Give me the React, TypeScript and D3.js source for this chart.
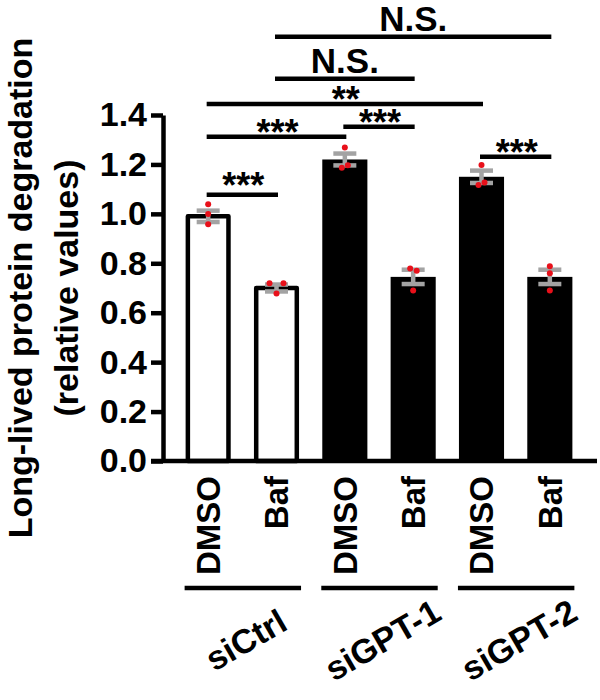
import React, { useEffect, useRef } from "react";
import * as d3 from "d3";

// data
const groups = ["siCtrl", "siGPT-1", "siGPT-2"];
const treatments = ["DMSO", "Baf"];
const means = [0.99, 0.70, 1.22, 0.745, 1.15, 0.745];
const sems = [0.023, 0.014, 0.024, 0.029, 0.025, 0.029];
const replicates = [
  [1.039, 0.999, 0.958],
  [0.719, 0.719, 0.678],
  [1.268, 1.197, 1.187],
  [0.779, 0.770, 0.690],
  [1.198, 1.127, 1.117],
  [0.788, 0.760, 0.690],
];
const yTicks = [0, 0.2, 0.4, 0.6, 0.8, 1.0, 1.2, 1.4];
// significance comparisons: bar index a vs b, drawn at value "level"
const comparisons = [
  { a: 0, b: 1, label: "***", level: 1.077 },
  { a: 0, b: 2, label: "***", level: 1.312 },
  { a: 2, b: 3, label: "***", level: 1.352 },
  { a: 4, b: 5, label: "***", level: 1.231 },
  { a: 0, b: 4, label: "**", level: 1.445 },
  { a: 1, b: 3, label: "N.S.", level: 1.547 },
  { a: 1, b: 5, label: "N.S.", level: 1.717 },
];
// horizontal offsets (px) of the replicate dots
const dotJitter = [
  [0, 0, 0],
  [-7, 7, 0],
  [0, 3, -3],
  [-3, 3.5, 0],
  [0, 3, -3],
  [0, 0, 0],
];

const FONT = "'Liberation Sans', Arial, Helvetica, sans-serif";

const App: React.FC = (): JSX.Element => {
  const ref = useRef<SVGSVGElement>(null);

  useEffect(() => {
    const svg = d3.select(ref.current);
    svg.selectAll("*").remove();

    const bars = groups.flatMap((g, gi) =>
      treatments.map((t, ti) => ({ key: `${g}-${t}`, group: gi, treatment: t, i: gi * 2 + ti }))
    );

    const axisX = 163;
    const x = d3.scaleBand<string>()
      .domain(bars.map(d => d.key))
      .range([174, 584])
      .paddingInner(0.34)
      .paddingOuter(0.17);
    const y = d3.scaleLinear().domain([0, 1.4]).range([461, 115]);
    const bw = x.bandwidth();
    const cx = (i: number) => (x(bars[i].key) || 0) + bw / 2;

    // y axis
    const yAxis = svg.append("g")
      .attr("transform", `translate(${axisX},0)`)
      .call(d3.axisLeft(y).tickValues(yTicks).tickSize(12).tickSizeOuter(0).tickPadding(4)
        .tickFormat(d3.format(".1f")));
    yAxis.select(".domain").attr("stroke", "#000").attr("stroke-width", 4.5);
    yAxis.selectAll(".tick line").attr("stroke", "#000").attr("stroke-width", 4.5);
    yAxis.selectAll(".tick text")
      .attr("fill", "#000")
      .style("font-family", FONT)
      .style("font-weight", "bold")
      .style("font-size", "34px");

    // y axis title
    const titleY = (y(0) + y(1.4)) / 2;
    [["Long-lived protein degradation", 32], ["(relative values)", 78]].forEach(([t, bx]) => {
      svg.append("text")
        .attr("transform", `translate(${bx},${titleY}) rotate(-90)`)
        .attr("text-anchor", "middle")
        .style("font-family", FONT)
        .style("font-weight", "bold")
        .style("font-size", "34px")
        .text(t as string);
    });

    // bars
    svg.append("g").selectAll("rect")
      .data(bars)
      .enter().append("rect")
      .attr("x", d => (x(d.key) || 0) + (d.group === 0 ? 2.25 : 0))
      .attr("width", d => bw - (d.group === 0 ? 4.5 : 0))
      .attr("y", d => y(means[d.i]))
      .attr("height", d => y(0) - y(means[d.i]))
      .attr("fill", d => d.group === 0 ? "#fff" : "#000")
      .attr("stroke", "#000")
      .attr("stroke-width", d => d.group === 0 ? 4.5 : 0)
      .attr("stroke-linejoin", "round");

    // x axis line
    svg.append("line")
      .attr("x1", axisX - 12).attr("x2", 597)
      .attr("y1", y(0)).attr("y2", y(0))
      .attr("stroke", "#000").attr("stroke-width", 4.5);

    // error bars
    const eb = svg.append("g").attr("stroke", "#a3a3a3").attr("stroke-width", 4.5);
    bars.forEach(d => {
      const c = cx(d.i);
      const hi = y(means[d.i] + sems[d.i]);
      const lo = y(means[d.i] - sems[d.i]);
      eb.append("line").attr("x1", c).attr("x2", c).attr("y1", hi).attr("y2", lo);
      eb.append("line").attr("x1", c - 11.5).attr("x2", c + 11.5).attr("y1", hi).attr("y2", hi);
      eb.append("line").attr("x1", c - 11.5).attr("x2", c + 11.5).attr("y1", lo).attr("y2", lo);
    });

    // replicate dots
    const dots = bars.flatMap(d => replicates[d.i].map((v, k) => ({ c: cx(d.i) + dotJitter[d.i][k], v })));
    svg.append("g").selectAll("circle")
      .data(dots)
      .enter().append("circle")
      .attr("cx", d => d.c)
      .attr("cy", d => y(d.v))
      .attr("r", 3)
      .attr("fill", "#e8101a");

    // treatment labels
    svg.append("g").selectAll("text")
      .data(bars)
      .enter().append("text")
      .attr("transform", d => `translate(${cx(d.i)},476) rotate(-90)`)
      .attr("text-anchor", "end")
      .attr("dy", "0.36em")
      .style("font-family", FONT)
      .style("font-weight", "bold")
      .style("font-size", "33px")
      .text(d => d.treatment);

    // group underline + labels
    groups.forEach((g, gi) => {
      const left = (x(bars[gi * 2].key) || 0) - 1;
      const right = (x(bars[gi * 2 + 1].key) || 0) + bw + 2;
      svg.append("line")
        .attr("x1", left).attr("x2", right)
        .attr("y1", 588).attr("y2", 588)
        .attr("stroke", "#000").attr("stroke-width", 4.5);
      svg.append("text")
        .attr("transform", `translate(${(left + right) / 2 + 3},640) rotate(-30)`)
        .attr("text-anchor", "middle")
        .attr("dy", "0.35em")
        .style("font-family", FONT)
        .style("font-weight", "bold")
        .style("font-size", "34px")
        .text(g);
    });

    // significance brackets
    const sig = svg.append("g");
    comparisons.forEach((c, ci) => {
      const x1 = cx(c.a) - 1.5;
      const x2 = cx(c.b) + 1.5;
      const ly = y(c.level);
      sig.append("line")
        .attr("x1", x1).attr("x2", x2)
        .attr("y1", ly).attr("y2", ly)
        .attr("stroke", "#000").attr("stroke-width", 4.5);
      const isStar = c.label.startsWith("*");
      // the first (siCtrl) stars sit a bit higher above their line
      const starBase = ci === 0 ? ly + 3 : ly + 8;
      sig.append("text")
        .attr("x", (x1 + x2) / 2 + (isStar ? 1 : 0))
        .attr("y", isStar ? starBase : ly - 5.5)
        .attr("text-anchor", "middle")
        .style("font-family", FONT)
        .style("font-weight", "bold")
        .style("font-size", isStar ? "36px" : "35px")
        .text(c.label);
    });
  }, []);

  return (
    <svg
      ref={ref}
      width={600}
      height={700}
      style={{ position: "absolute", left: 0, top: 0, background: "#fff" }}
    ></svg>
  );
};

export default App;
